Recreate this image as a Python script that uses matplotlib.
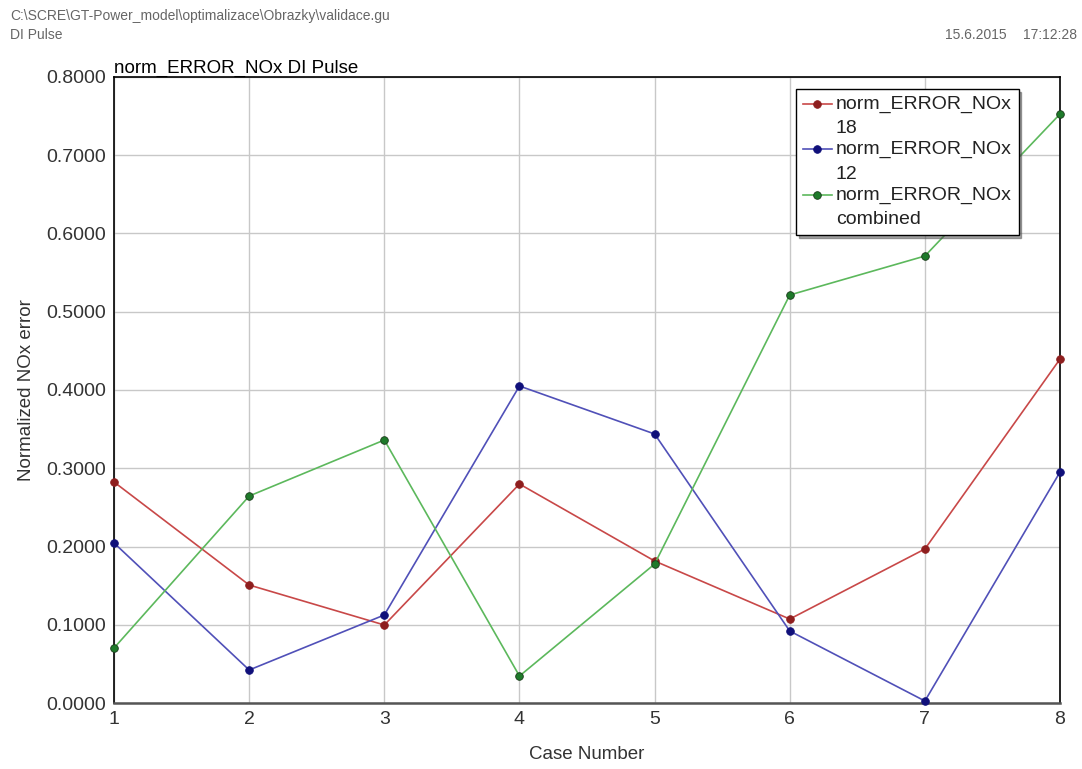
import matplotlib
matplotlib.use('Agg')
import matplotlib.pyplot as plt
from matplotlib.legend_handler import HandlerLine2D

plt.rcParams['font.family'] = ['Liberation Sans', 'DejaVu Sans']

# data
cases = [1, 2, 3, 4, 5, 6, 7, 8]
err_18 = [0.2824, 0.1508, 0.0997, 0.2799, 0.1815, 0.1073, 0.1968, 0.4396]
err_12 = [0.2045, 0.0422, 0.1125, 0.4051, 0.3438, 0.0920, 0.0026, 0.2952]
err_comb = [0.0703, 0.2645, 0.3361, 0.0345, 0.1776, 0.5214, 0.5712, 0.7527]
yticks = [0.0, 0.1, 0.2, 0.3, 0.4, 0.5, 0.6, 0.7, 0.8]


class TopLineHandler(HandlerLine2D):
    # put the legend marker next to the first text line
    def create_artists(self, legend, orig_handle, xdescent, ydescent,
                       width, height, fontsize, trans):
        arts = super().create_artists(legend, orig_handle, xdescent, ydescent,
                                      width, height, fontsize, trans)
        for a in arts:
            y = a.get_ydata()
            a.set_ydata([v + 8.8 for v in y])
        return arts


fig = plt.figure(figsize=(10.82, 7.69), dpi=100)
fig.patch.set_facecolor('white')
ax = fig.add_axes([0.1054, 0.0858, 0.8743, 0.8141])

series = [
    (err_18, 'norm_ERROR_NOx\n18', '#C84848', '#8E1E1E'),
    (err_12, 'norm_ERROR_NOx\n12', '#5050B8', '#10107A'),
    (err_comb, 'norm_ERROR_NOx\ncombined', '#5CB85C', '#1E7A2A'),
]
for vals, lab, lc, mc in series:
    ax.plot(cases, vals, color=lc, lw=1.2, marker='o', ms=5.5,
            mfc=mc, mec='#1a3a1a' if 'combined' in lab else mc, mew=0.6,
            label=lab, zorder=3, clip_on=False)

ax.set_xlim(1, 8)
ax.set_ylim(0, 0.8)
ax.set_xticks(cases)
ax.set_yticks(yticks)
ax.set_yticklabels([f'{v:.4f}' for v in yticks])
ax.grid(True, color='#C8C8C8', lw=1)
ax.set_axisbelow(True)
ax.tick_params(length=0, labelsize=14, colors='#333333', pad=6)
for s in ['top', 'right', 'left']:
    ax.spines[s].set_color('black')
    ax.spines[s].set_linewidth(1.2)
ax.spines['bottom'].set_color('#555555')
ax.spines['bottom'].set_linewidth(1.8)

ax.set_xlabel('Case Number', fontsize=13.5, color='#333333', labelpad=13)
ax.set_ylabel('Normalized NOx error', fontsize=13.5, color='#333333', labelpad=8)

ax.text(0.0, 1.0, 'norm_ERROR_NOx DI Pulse', transform=ax.transAxes,
        ha='left', va='bottom', fontsize=13.5, color='black')

leg = ax.legend(loc='upper left', bbox_to_anchor=(0.721, 0.981), fontsize=14,
                frameon=True, fancybox=False, shadow=True, handlelength=1.5,
                handletextpad=0.2, borderpad=0.35, labelspacing=0.22,
                borderaxespad=0, handler_map={plt.Line2D: TopLineHandler()})
leg.get_frame().set_edgecolor('black')
leg.get_frame().set_linewidth(1.0)
for t in leg.get_texts():
    t.set_color('#222222')
    t.set_linespacing(1.55)

# header
fig.text(10 / 1082, 1 - 16 / 769, 'C:\\SCRE\\GT-Power_model\\optimalizace\\Obrazky\\validace.gu',
         ha='left', va='center', fontsize=10, color='#666666')
fig.text(10 / 1082, 1 - 35 / 769, 'DI Pulse', ha='left', va='center',
         fontsize=10, color='#666666')
fig.text(1007 / 1082, 1 - 35 / 769, '15.6.2015', ha='right', va='center',
         fontsize=10, color='#666666')
fig.text(1077 / 1082, 1 - 35 / 769, '17:12:28', ha='right', va='center',
         fontsize=10, color='#666666')

fig.savefig('out.png', dpi=100, facecolor='white')
